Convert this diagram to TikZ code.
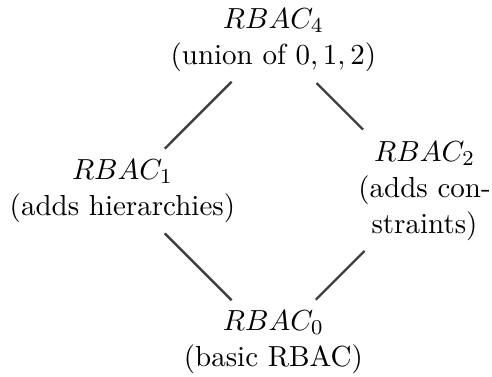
\documentclass[tikz,border=0pt]{standalone}
\begin{document}
\begin{tikzpicture}[x=1pt,y=1pt,
  role/.style={align=center,inner sep=0pt,font=\fontsize{10.95}{13.6}\selectfont},
  link/.style={line width=0.9pt,draw=black!75}]
\useasboundingbox (0,0) rectangle (185.66,141.89);
% corners of the lattice diamond
\coordinate (c4) at (103.17,126.8);
\coordinate (c1) at (46.2,69.8);
\coordinate (c2) at (160.2,69.8);
\coordinate (c0) at (103.17,12.8);
% role levels
\node[role] (r4) at (c4) {$RBAC_4$\\(union of $0,1,2$)};
\node[role] (r1) at (c1) {$RBAC_1$\\(adds hierarchies)};
\node[role] (r2) at (c2) {$RBAC_2$\\(adds con-\\straints)};
\node[role] (r0) at (c0) {$RBAC_0$\\(basic RBAC)};
% inheritance links
\draw[link, shorten <=22.3pt, shorten >=22.6pt] (c4) -- (c1);
\draw[link, shorten <=23pt, shorten >=32.8pt] (c4) -- (c2);
\draw[link, shorten <=22.6pt, shorten >=22.3pt] (c1) -- (c0);
\draw[link, shorten <=32pt, shorten >=22.6pt] (c2) -- (c0);
\end{tikzpicture}
\end{document}
